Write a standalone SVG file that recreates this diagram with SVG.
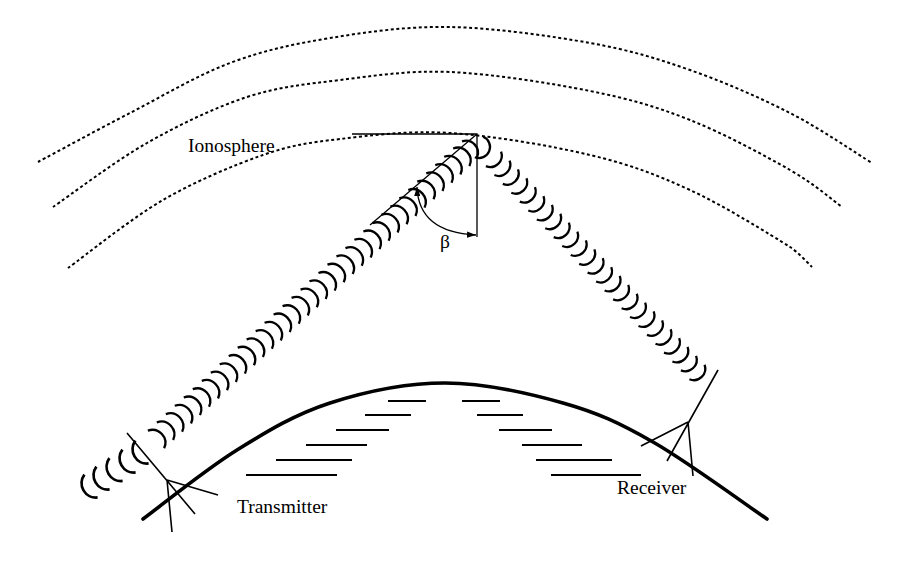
<svg xmlns="http://www.w3.org/2000/svg" xmlns:xlink="http://www.w3.org/1999/xlink" width="906" height="561" viewBox="0 0 906 561">
<style>
.dash{fill:none;stroke:#000;stroke-width:2;stroke-dasharray:3 2.6}
.ground{fill:none;stroke:#000;stroke-width:3.6;stroke-linecap:round}
.thin{fill:none;stroke:#000;stroke-width:1.3}
.ant{fill:none;stroke:#000;stroke-width:1.6}
.sea{fill:none;stroke:#000;stroke-width:1.8}
.wave{fill:none;stroke:#000;stroke-width:2.3}
.lbl{font-family:"Liberation Serif","Times New Roman",serif;font-size:19.5px;fill:#000}
</style>
<defs>
<path id="w" d="M0,-11 A12,12 0 0 1 0,11"/>
<path id="wl" d="M0,-12 A13,13 0 0 1 0,12"/>
<path id="wr" d="M0,-10.5 A11.5,11.5 0 0 1 0,10.5"/>
<marker id="ah" viewBox="0 0 10 7" refX="10" refY="3.5" markerWidth="9" markerHeight="6.3" markerUnits="userSpaceOnUse" orient="auto-start-reverse"><path d="M0,0 L10,3.5 L0,7 z" fill="#000"/></marker>
</defs>
<rect width="906" height="561" fill="#fff"/>
<g id="ionosphere">
<path class="dash" d="M38,162 C53.3,153.8 98,129.5 130,113 C162,96.5 196.7,75.5 230,63 C263.3,50.5 293.3,44 330,38 C366.7,32 406.7,26.2 450,27 C493.3,27.8 550,35.8 590,43 C630,50.2 656.7,58.3 690,70 C723.3,81.7 759.7,97.5 790,113 C820.3,128.5 858.3,154.7 872,163"/>
<path class="dash" d="M53,207 C68.7,196.3 114.7,161.3 147,143 C179.3,124.7 214.8,107.5 247,97 C279.2,86.5 306.2,84.2 340,80 C373.8,75.8 408.3,70.2 450,72 C491.7,73.8 550,83 590,91 C630,99 656.7,106.8 690,120 C723.3,133.2 764.7,155.5 790,170 C815.3,184.5 833.3,200.8 842,207"/>
<path class="dash" d="M68,268 C83.8,256.7 130.5,218.8 163,200 C195.5,181.2 233.5,165.2 263,155 C292.5,144.8 308.8,142.7 340,139 C371.2,135.3 408.3,130.3 450,133 C491.7,135.7 550,145.5 590,155 C630,164.5 656.7,174.7 690,190 C723.3,205.3 769.7,234.2 790,247 C797,251.5 806,261 812,267"/>
</g>
<g id="earth">
<path class="ground" d="M143,519 C158.7,507.5 205.8,469.3 237,450 C268.2,430.7 295.3,414.2 330,403 C364.7,391.8 406.2,383 445,383 C483.8,383 528.3,393.2 563,403 C597.7,412.8 619,422.7 653,442 C687,461.3 748,506.2 767,519"/>
<path class="sea" d="M388,401H426 M365,415H411 M336,430H389 M306,445H367 M276,460H352 M246,475H337 M462,401H500 M477,415H523 M499,430H552 M522,445H582 M536,460H612 M551,475H641"/>
</g>
<g id="angle">
<path class="thin" d="M352,134H477V237 M477,134L370,225"/>
<path class="thin" d="M417,187 C418,215 435,233 476,235" marker-start="url(#ah)" marker-end="url(#ah)"/>
</g>
<g id="transmitter">
<path class="ant" d="M127,433L195,514 M167,480L218,495 M167,480L172,532"/>
</g>
<g id="receiver">
<path class="ant" d="M718,370L667,461 M688,422L641,446 M688,422L693,476"/>
</g>
<g id="connectors">
<g id="back-waves" class="wave">
<use xlink:href="#w" href="#w" transform="translate(91,486) rotate(150) scale(1.2)"/>
<use xlink:href="#w" href="#w" transform="translate(103,478) rotate(150) scale(1.2)"/>
<use xlink:href="#w" href="#w" transform="translate(116,469.5) rotate(150) scale(1.2)"/>
<use xlink:href="#w" href="#w" transform="translate(129,461) rotate(150) scale(1.2)"/>
<use xlink:href="#w" href="#w" transform="translate(142,452) rotate(150) scale(1.2)"/>
</g>
<g id="up-beam" class="wave">
<use xlink:href="#wl" href="#wl" transform="translate(156.0,439.5) rotate(-42.7)"/>
<use xlink:href="#wl" href="#wl" transform="translate(165.0,431.2) rotate(-42.7)"/>
<use xlink:href="#wl" href="#wl" transform="translate(174.0,422.9) rotate(-42.7)"/>
<use xlink:href="#wl" href="#wl" transform="translate(182.9,414.6) rotate(-42.7)"/>
<use xlink:href="#wl" href="#wl" transform="translate(191.9,406.3) rotate(-42.7)"/>
<use xlink:href="#wl" href="#wl" transform="translate(200.9,398.0) rotate(-42.7)"/>
<use xlink:href="#wl" href="#wl" transform="translate(209.9,389.7) rotate(-42.7)"/>
<use xlink:href="#wl" href="#wl" transform="translate(218.9,381.4) rotate(-42.7)"/>
<use xlink:href="#wl" href="#wl" transform="translate(227.8,373.1) rotate(-42.7)"/>
<use xlink:href="#wl" href="#wl" transform="translate(236.8,364.8) rotate(-42.7)"/>
<use xlink:href="#wl" href="#wl" transform="translate(245.8,356.5) rotate(-42.7)"/>
<use xlink:href="#wl" href="#wl" transform="translate(254.8,348.2) rotate(-42.7)"/>
<use xlink:href="#wl" href="#wl" transform="translate(263.8,339.9) rotate(-42.7)"/>
<use xlink:href="#wl" href="#wl" transform="translate(272.7,331.6) rotate(-42.7)"/>
<use xlink:href="#wl" href="#wl" transform="translate(281.7,323.3) rotate(-42.7)"/>
<use xlink:href="#wl" href="#wl" transform="translate(290.7,315.0) rotate(-42.7)"/>
<use xlink:href="#wl" href="#wl" transform="translate(299.7,306.7) rotate(-42.7)"/>
<use xlink:href="#wl" href="#wl" transform="translate(308.7,298.4) rotate(-42.7)"/>
<use xlink:href="#wl" href="#wl" transform="translate(317.6,290.1) rotate(-42.7)"/>
<use xlink:href="#wl" href="#wl" transform="translate(326.6,281.8) rotate(-42.7)"/>
<use xlink:href="#wl" href="#wl" transform="translate(335.6,273.5) rotate(-42.7)"/>
<use xlink:href="#wl" href="#wl" transform="translate(344.6,265.2) rotate(-42.7)"/>
<use xlink:href="#wl" href="#wl" transform="translate(353.6,256.9) rotate(-42.7)"/>
<use xlink:href="#wl" href="#wl" transform="translate(362.5,248.6) rotate(-42.7)"/>
<use xlink:href="#wl" href="#wl" transform="translate(371.5,240.3) rotate(-42.7)"/>
<use xlink:href="#wl" href="#wl" transform="translate(380.5,232.0) rotate(-42.7)"/>
<use xlink:href="#wl" href="#wl" transform="translate(389.5,223.7) rotate(-42.7)"/>
<use xlink:href="#wl" href="#wl" transform="translate(398.5,215.4) rotate(-42.7)"/>
<use xlink:href="#wl" href="#wl" transform="translate(407.4,207.1) rotate(-42.7)"/>
<use xlink:href="#wl" href="#wl" transform="translate(416.4,198.8) rotate(-42.7)"/>
<use xlink:href="#wl" href="#wl" transform="translate(425.4,190.5) rotate(-42.7)"/>
<use xlink:href="#wl" href="#wl" transform="translate(434.4,182.2) rotate(-42.7)"/>
<use xlink:href="#wl" href="#wl" transform="translate(443.4,173.9) rotate(-42.7)"/>
<use xlink:href="#wl" href="#wl" transform="translate(452.3,165.6) rotate(-42.7)"/>
<use xlink:href="#wl" href="#wl" transform="translate(461.3,157.3) rotate(-42.7)"/>
<use xlink:href="#w" href="#w" transform="translate(469.5,149.5) rotate(-42.7)"/>
</g>
<g id="down-beam" class="wave">
<path d="M0,-11 A11,11 0 0 1 0,11" transform="translate(479,147) rotate(22)"/>
<use xlink:href="#wr" href="#wr" transform="translate(493.5,158.9) rotate(46.3)"/>
<use xlink:href="#wr" href="#wr" transform="translate(502.0,167.8) rotate(46.3)"/>
<use xlink:href="#wr" href="#wr" transform="translate(510.4,176.6) rotate(46.3)"/>
<use xlink:href="#wr" href="#wr" transform="translate(518.9,185.5) rotate(46.3)"/>
<use xlink:href="#wr" href="#wr" transform="translate(527.4,194.4) rotate(46.3)"/>
<use xlink:href="#wr" href="#wr" transform="translate(535.9,203.3) rotate(46.3)"/>
<use xlink:href="#wr" href="#wr" transform="translate(544.4,212.2) rotate(46.3)"/>
<use xlink:href="#wr" href="#wr" transform="translate(552.8,221.0) rotate(46.3)"/>
<use xlink:href="#wr" href="#wr" transform="translate(561.3,229.9) rotate(46.3)"/>
<use xlink:href="#wr" href="#wr" transform="translate(569.8,238.8) rotate(46.3)"/>
<use xlink:href="#wr" href="#wr" transform="translate(578.3,247.7) rotate(46.3)"/>
<use xlink:href="#wr" href="#wr" transform="translate(586.8,256.6) rotate(46.3)"/>
<use xlink:href="#wr" href="#wr" transform="translate(595.2,265.4) rotate(46.3)"/>
<use xlink:href="#wr" href="#wr" transform="translate(603.7,274.3) rotate(46.3)"/>
<use xlink:href="#wr" href="#wr" transform="translate(612.2,283.2) rotate(46.3)"/>
<use xlink:href="#wr" href="#wr" transform="translate(620.7,292.1) rotate(46.3)"/>
<use xlink:href="#wr" href="#wr" transform="translate(629.2,301.0) rotate(46.3)"/>
<use xlink:href="#wr" href="#wr" transform="translate(637.6,309.8) rotate(46.3)"/>
<use xlink:href="#wr" href="#wr" transform="translate(646.1,318.7) rotate(46.3)"/>
<use xlink:href="#wr" href="#wr" transform="translate(654.6,327.6) rotate(46.3)"/>
<use xlink:href="#wr" href="#wr" transform="translate(663.1,336.5) rotate(46.3)"/>
<use xlink:href="#wr" href="#wr" transform="translate(671.6,345.4) rotate(46.3)"/>
<use xlink:href="#wr" href="#wr" transform="translate(680.0,354.2) rotate(46.3)"/>
<use xlink:href="#wr" href="#wr" transform="translate(688.5,363.1) rotate(46.3)"/>
<use xlink:href="#wr" href="#wr" transform="translate(697.0,372.0) rotate(46.3)"/>
</g>
</g>
<g id="labels">
<text class="lbl" x="188" y="152">Ionosphere</text>
<text class="lbl" x="440" y="248">β</text>
<text class="lbl" x="237" y="513">Transmitter</text>
<text class="lbl" x="617" y="494">Receiver</text>
</g>
</svg>
